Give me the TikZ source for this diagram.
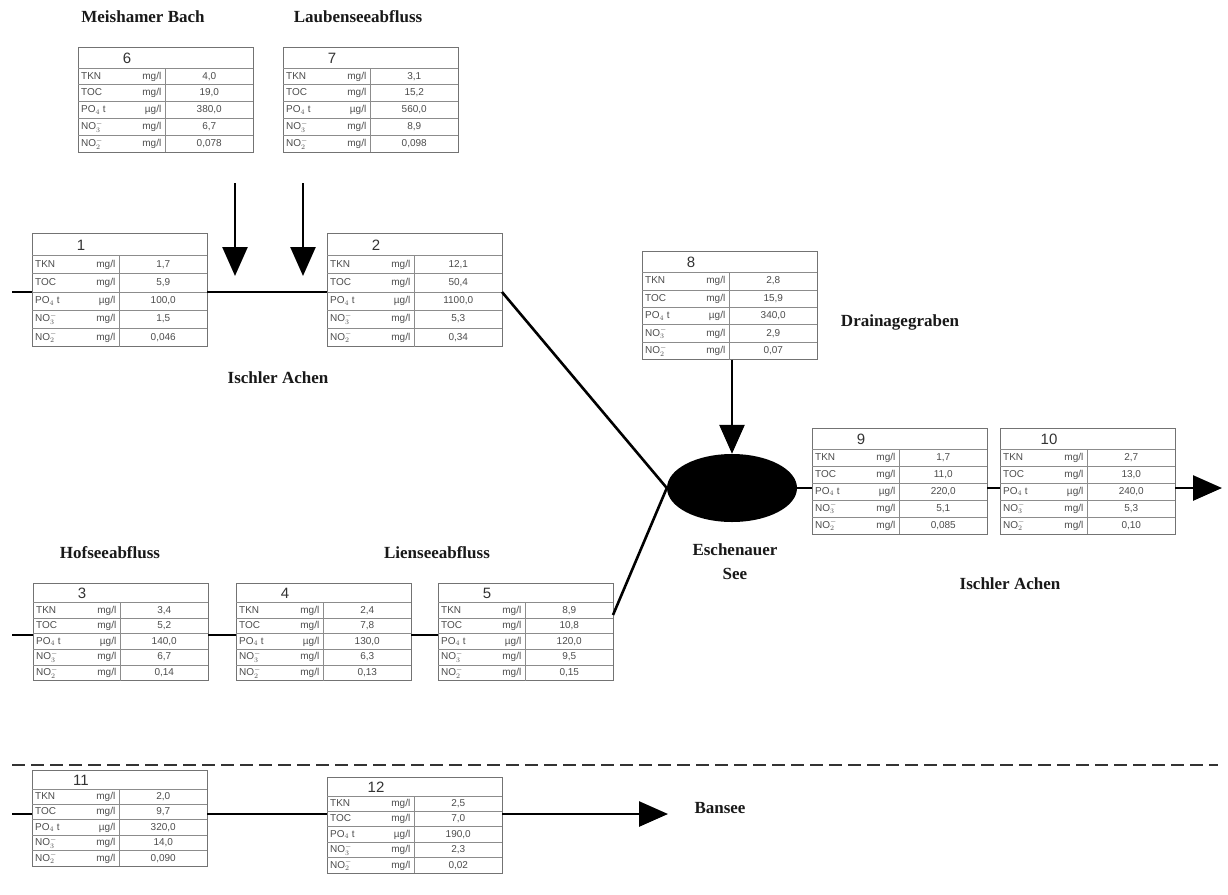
\documentclass[tikz,border=0pt]{standalone}
\usepackage{fontspec}
\setmainfont{Liberation Sans}
\newfontfamily\labfont{Liberation Serif}
\usetikzlibrary{arrows.meta,shapes.geometric,calc}

\tikzset{
  tabframe/.style={draw=black!55, line width=0.9pt, inner sep=0pt, outer sep=0pt},
  gridline/.style={draw=black!45, line width=0.8pt},
  celltxt/.style={font=\fontsize{10}{11}\selectfont, text=black!70, inner sep=0pt, text height=7pt, text depth=1.5pt},
  hdrtxt/.style={font=\fontsize{15}{16}\selectfont, text=black!80, inner sep=0pt},
  flow/.style={line width=2.6pt, draw=black},
  flowarrow/.style={flow, -{Triangle[width=25pt,length=29pt]}},
  lbl/.style={font=\labfont\bfseries\fontsize{17}{20}\selectfont, align=center, text=black!90, inner sep=0pt},
  lake/.style={ellipse, fill=black, minimum width=130pt, minimum height=68pt, inner sep=0pt},
  sep/.style={line width=1.3pt, draw=black!80, dash pattern=on 13pt off 6pt},
}

\def\tw{175}
\newcommand\mrow[5]{%
  \pgfmathsetmacro\yc{\hh+(#2-0.5)*\rh}%
  \node[celltxt, anchor=west] (#1-p#2) at (3,\yc) {#3};
  \node[celltxt, anchor=east] (#1-u#2) at (\tw/2-4,\yc) {#4};
  \node[celltxt] (#1-v#2) at (0.75*\tw,\yc) {#5};
}
% name, x, y(top), number, five values
\newcommand\mtab[9]{%
  \pgfmathsetmacro\th{\hh+5*\rh}%
  \begin{scope}[shift={(#2,#3)}]
    \node[tabframe, anchor=north west, minimum width=\tw pt, minimum height=\th pt] (#1) at (0,0) {};
    \foreach \k in {0,...,4} {\draw[gridline] (0,\hh+\k*\rh) -- (\tw,\hh+\k*\rh);}
    \draw[gridline] (\tw/2,\hh) -- (\tw/2,\th);
    \node[hdrtxt] (#1-n) at (0.28*\tw,\hh/2+1) {#4};
    \mrow{#1}{1}{TKN}{mg/l}{#5}
    \mrow{#1}{2}{TOC}{mg/l}{#6}
    \mrow{#1}{3}{PO$_4$ t}{µg/l}{#7}
    \mrow{#1}{4}{NO$_3^-$}{mg/l}{#8}
    \mrow{#1}{5}{NO$_2^-$}{mg/l}{#9}
  \end{scope}
}

\begin{document}
\begin{tikzpicture}[x=1pt,y=-1pt]
\fill[white] (0,0) rectangle (1228,894);
\useasboundingbox (0,0) rectangle (1228,894);

% upper tributaries
\def\hh{21}\def\rh{16.8}
\mtab{t6}{78}{47}{6}{4,0}{19,0}{380,0}{6,7}{0,078}
\mtab{t7}{283}{47}{7}{3,1}{15,2}{560,0}{8,9}{0,098}
\node[lbl] (l6) at (143,17) {Meishamer Bach};
\node[lbl] (l7) at (358,17) {Laubenseeabfluss};

% upper Ischler Achen
\def\hh{22.5}\def\rh{18.2}
\mtab{t1}{32}{233}{1}{1,7}{5,9}{100,0}{1,5}{0,046}
\mtab{t2}{327}{233}{2}{12,1}{50,4}{1100,0}{5,3}{0,34}
\node[lbl] (l1) at (278,378) {Ischler Achen};

% Drainagegraben
\def\hh{21.5}\def\rh{17.4}
\mtab{t8}{642}{251}{8}{2,8}{15,9}{340,0}{2,9}{0,07}
\node[lbl] (l8) at (900,322) {Drainagegraben};

% lake
\node[lake] (lake) at (732,488) {};
\node[lbl] (llake) at (735,562) {Eschenauer\\[4pt]See};

% lower Ischler Achen
\def\hh{21}\def\rh{17}
\mtab{t9}{812}{428}{9}{1,7}{11,0}{220,0}{5,1}{0,085}
\mtab{t10}{1000}{428}{10}{2,7}{13,0}{240,0}{5,3}{0,10}
\node[lbl] (l9) at (1010,584) {Ischler Achen};

% southern tributary
\def\hh{19.5}\def\rh{15.6}
\mtab{t3}{33}{583}{3}{3,4}{5,2}{140,0}{6,7}{0,14}
\mtab{t4}{236}{583}{4}{2,4}{7,8}{130,0}{6,3}{0,13}
\mtab{t5}{438}{583}{5}{8,9}{10,8}{120,0}{9,5}{0,15}
\node[lbl] (l3) at (110,553) {Hofseeabfluss};
\node[lbl] (l4) at (437,553) {Lienseeabfluss};

% separator
\coordinate (sepL) at (12,765);
\coordinate (sepR) at (1218,765);
\draw[sep] (sepL) -- (sepR);

% Bansee branch
\def\hh{19}\def\rh{15.4}
\mtab{t11}{32}{770}{11}{2,0}{9,7}{320,0}{14,0}{0,090}
\mtab{t12}{327}{777}{12}{2,5}{7,0}{190,0}{2,3}{0,02}
\node[lbl] (l12) at (720,808) {Bansee};

% connectors
\coordinate (s1) at (12,292);
\draw[flow] (s1) -- (t1.west |- s1);
\draw[flow] (t1.east |- s1) -- (t2.west |- s1);
\draw[flow] (t2.east |- s1) -- (lake.west);

\coordinate (a6s) at (235,183);
\coordinate (a6e) at (235,276);
\coordinate (a7s) at (303,183);
\coordinate (a7e) at (303,276);
\draw[flowarrow] (a6s) -- (a6e);
\draw[flowarrow] (a7s) -- (a7e);

\draw[flowarrow] (lake.north |- t8.south) -- (lake.north);

\draw[flow] (lake.east) -- (lake.east -| t9.west);
\draw[flow] (t9.east |- lake.east) -- (t10.west |- lake.east);
\coordinate (out10) at (1222,488);
\draw[flowarrow] (t10.east |- lake.east) -- (out10);

\coordinate (s3) at (12,635);
\draw[flow] (s3) -- (t3.west |- s3);
\draw[flow] (t3.east |- s3) -- (t4.west |- s3);
\draw[flow] (t4.east |- s3) -- (t5.west |- s3);
\coordinate (t5o) at ($(t5.north east)+(0,32)$);
\draw[flow] (t5o) -- (lake.west);

\coordinate (s11) at (12,814);
\draw[flow] (s11) -- (t11.west |- s11);
\draw[flow] (t11.east |- s11) -- (t12.west |- s11);
\coordinate (out12) at (668,814);
\draw[flowarrow] (t12.east |- s11) -- (out12);
\end{tikzpicture}
\end{document}
